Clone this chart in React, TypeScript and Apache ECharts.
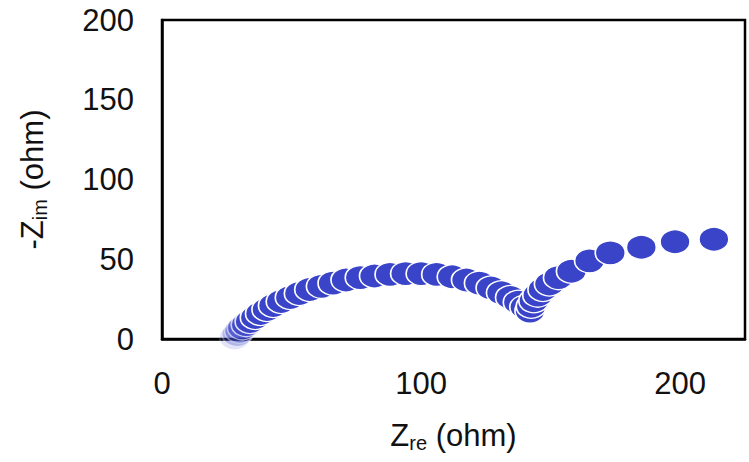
import React, { useEffect, useRef } from "react";
import * as echarts from "echarts";

const zRe: number[] = [
  28, 29, 30, 31, 32.5, 34, 36, 38, 40.5, 43, 46, 49.5, 53, 57, 61.5, 66, 71, 76.5, 82, 88, 94, 100, 106, 112,
  117.5, 122.5, 127, 131, 134.5, 137.5, 140, 142,
  142.5, 143.5, 145, 147, 149.5, 153, 158, 165, 173, 185, 198, 213,
];
const zIm: number[] = [
  1, 3, 5, 7, 9, 11, 13.5, 16, 18.5, 21, 23.5, 26, 28.5, 31, 33, 35, 37, 38.5, 39.5, 40.5, 41, 41, 40.5, 39,
  37, 35, 32, 29, 26, 23, 20, 17.5,
  20.5, 24, 27.5, 31, 34.5, 38.5, 42.5, 49, 54, 57.5, 61, 62.5,
];
const xTicks: number[] = [0, 100, 200];
const yTicks: number[] = [0, 50, 100, 150, 200];

export default function App() {
  const ref = useRef<HTMLDivElement>(null);
  useEffect(() => {
    if (!ref.current) return;
    const chart = echarts.init(ref.current, undefined, { renderer: "svg" });
    const fadeCount = 6;
    const data = zRe.map((x, i) => ({
      value: [x, zIm[i]],
      itemStyle: { opacity: i < fadeCount ? 0.15 + (0.85 * i) / fadeCount : 1 },
    }));
    const font = "'Liberation Sans', Arial, sans-serif";
    const sub = { fontSize: 20, fontFamily: font, color: "#111", verticalAlign: "bottom", padding: [16, 0, 0, 0] };
    chart.setOption({
      animation: false,
      backgroundColor: "#ffffff",
      grid: {
        left: 162,
        right: 4,
        top: 20,
        bottom: 123,
        show: true,
        borderColor: "#000",
        borderWidth: 2.5,
      },
      xAxis: {
        type: "value",
        min: 0,
        max: 225,
        interval: 100,
        splitLine: { show: false },
        axisLine: { show: true, lineStyle: { color: "#000", width: 2.5 } },
        axisTick: { show: false },
        axisLabel: {
          color: "#111",
          fontSize: 31,
          fontFamily: font,
          margin: 29,
          showMaxLabel: false,
          formatter: (v: number) => (xTicks.includes(v) ? String(v) : ""),
        },
        name: "Z{sub|re} (ohm)",
        nameLocation: "middle",
        nameGap: 78,
        nameTextStyle: { color: "#111", fontSize: 31, fontFamily: font, rich: { sub } },
      },
      yAxis: {
        type: "value",
        min: 0,
        max: 200,
        interval: 50,
        splitLine: { show: false },
        axisLine: { show: true, lineStyle: { color: "#000", width: 2.5 } },
        axisTick: { show: false },
        axisLabel: {
          color: "#111",
          fontSize: 31,
          fontFamily: font,
          margin: 28,
          formatter: (v: number) => (yTicks.includes(v) ? String(v) : ""),
        },
        name: "-Z{sub|im} (ohm)",
        nameLocation: "middle",
        nameGap: 112,
        nameTextStyle: { color: "#111", fontSize: 31, fontFamily: font, rich: { sub } },
      },
      series: [
        {
          type: "scatter",
          data,
          symbol: "circle",
          symbolSize: [30, 24],
          itemStyle: { color: "#3a44c8", borderColor: "#ffffff", borderWidth: 1.5 },
        },
      ],
    });
    return () => chart.dispose();
  }, []);
  return <div ref={ref} style={{ position: "absolute", left: 0, top: 0, width: 749, height: 462 }} />;
}
